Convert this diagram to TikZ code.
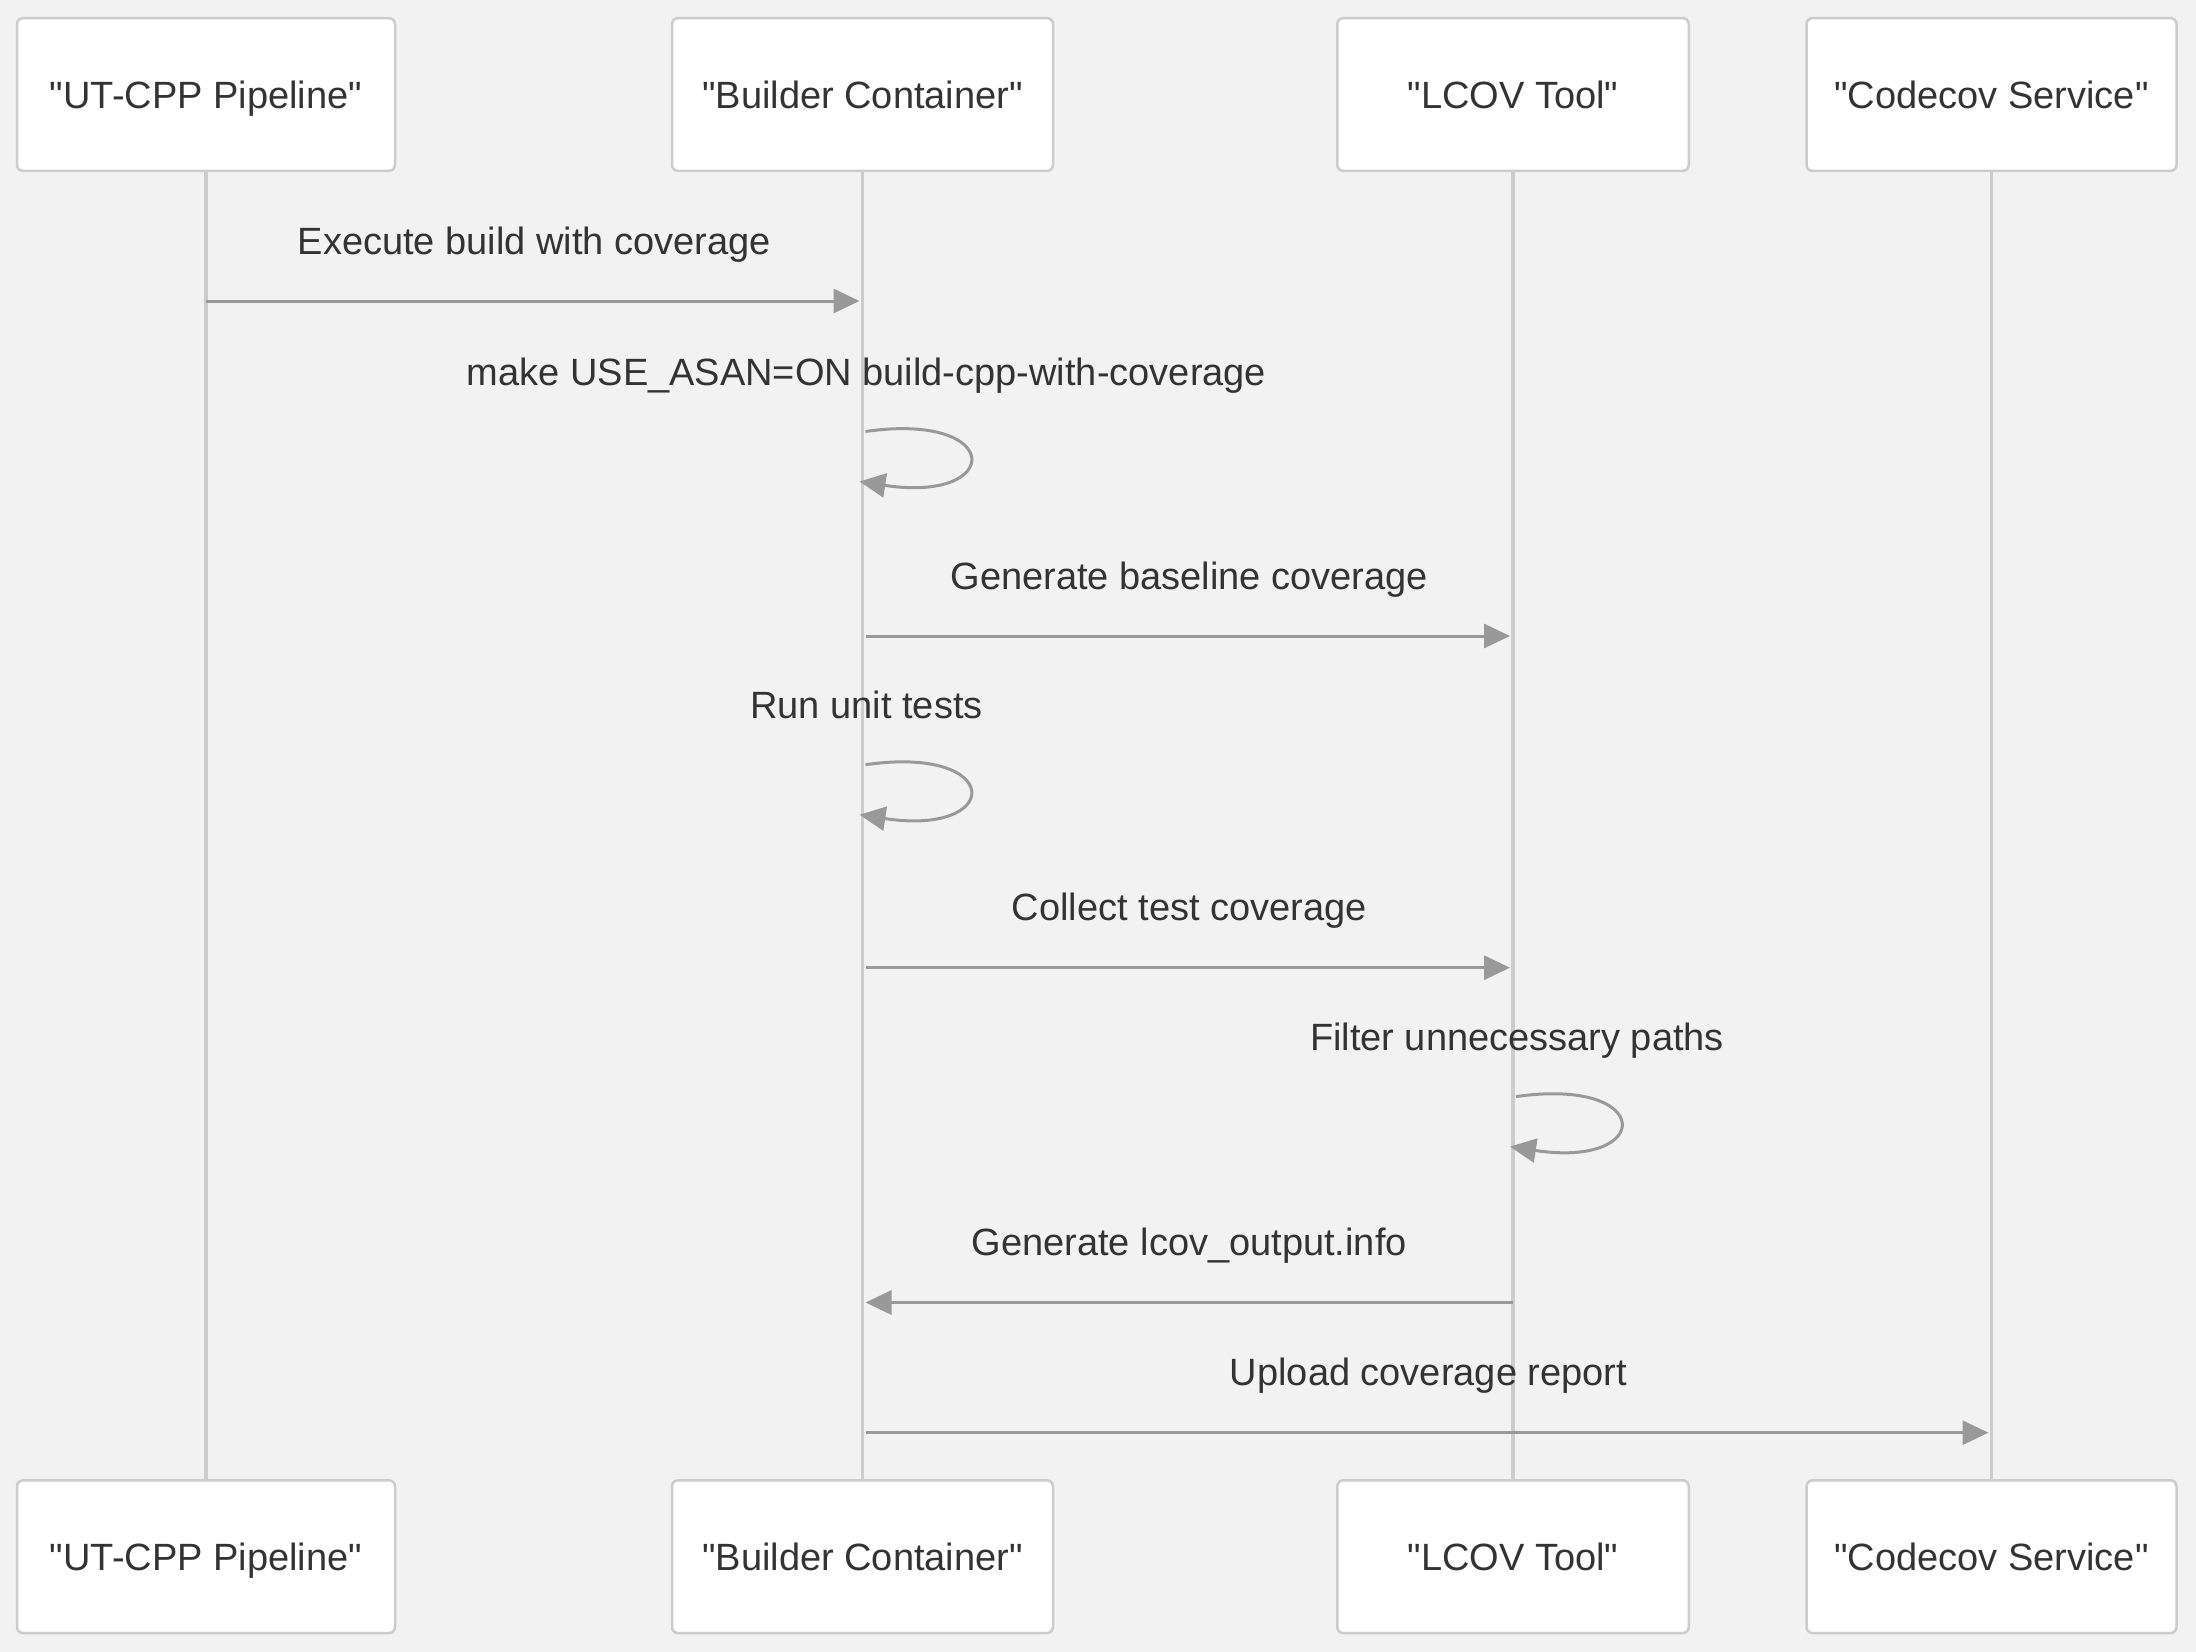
\documentclass[tikz,border=0pt]{standalone}
\usepackage{fontspec}
\newfontfamily\diagfont{Liberation Sans}
\usetikzlibrary{arrows.meta}
\definecolor{bg}{HTML}{F2F2F2}
\definecolor{boxborder}{HTML}{CCCCCC}
\definecolor{life}{HTML}{CCCCCC}
\definecolor{arrowc}{HTML}{999999}
\definecolor{txt}{HTML}{333333}
\begin{document}
\begin{tikzpicture}[x=1pt,y=-1pt,
  actor/.style={draw=boxborder, line width=2.5pt, fill=white, rounded corners=6pt,
    minimum height=152.7pt, inner sep=0pt, text height=27.2pt, text depth=0pt,
    font=\diagfont\fontsize{38}{46}\selectfont, text=txt},
  lifeline/.style={draw=life, line width=3.5pt},
  msg/.style={draw=arrowc, line width=3pt, -{Triangle[length=26pt,width=24pt]}},
  lbl/.style={anchor=base, inner sep=0pt, font=\diagfont\fontsize{38}{46}\selectfont, text=txt},
]
\fill[bg] (0,0) rectangle (2196,1652);
\useasboundingbox (0,0) rectangle (2196,1652);

% participants (top)
\node[actor, minimum width=378pt] (ut) at (206,94.5) {"UT-CPP Pipeline"};
\node[actor, minimum width=381pt] (bc) at (862.5,94.5) {"Builder Container"};
\node[actor, minimum width=351.5pt] (lc) at (1513,94.5) {"LCOV Tool"};
\node[actor, minimum width=370pt] (cs) at (1991.5,94.5) {"Codecov Service"};
% participants (bottom)
\node[actor, minimum width=378pt] (utb) at (206,1556.7) {"UT-CPP Pipeline"};
\node[actor, minimum width=381pt] (bcb) at (862.5,1556.7) {"Builder Container"};
\node[actor, minimum width=351.5pt] (lcb) at (1513,1556.7) {"LCOV Tool"};
\node[actor, minimum width=370pt] (csb) at (1991.5,1556.7) {"Codecov Service"};

% lifelines
\draw[lifeline] (ut.south) -- (utb.north);
\draw[lifeline] (bc.south) -- (bcb.north);
\draw[lifeline] (lc.south) -- (lcb.north);
\draw[lifeline] (cs.south) -- (csb.north);

% message rows
\coordinate (y1) at (0,301);
\coordinate (y2) at (0,431.5);
\coordinate (y3) at (0,636);
\coordinate (y4) at (0,764.7);
\coordinate (y5) at (0,967.7);
\coordinate (y6) at (0,1096.6);
\coordinate (y7) at (0,1302.5);
\coordinate (y8) at (0,1432.7);

% 1
\draw[msg, shorten >=3pt] (ut.south |- y1) -- node[lbl, yshift=47pt] (l1) {Execute build with coverage} (bc.south |- y1);
% 2 self loop
\node[lbl] (l2) at ([xshift=4pt, yshift=46pt]bc.south |- y2) {make USE\_ASAN=ON build-cpp-with-coverage};
\draw[msg] ([xshift=3pt]bc.south |- y2) .. controls +(139,-20) and +(144,22) .. ([xshift=-3pt, yshift=-50pt]bc.south |- y2);
% 3
\draw[msg, shorten >=3pt] ([xshift=3pt]bc.south |- y3) -- node[lbl, yshift=47pt] (l3) {Generate baseline coverage} (lc.south |- y3);
% 4 self loop
\node[lbl] (l4) at ([xshift=4pt, yshift=46pt]bc.south |- y4) {Run unit tests};
\draw[msg] ([xshift=3pt]bc.south |- y4) .. controls +(139,-20) and +(144,22) .. ([xshift=-3pt, yshift=-50pt]bc.south |- y4);
% 5
\draw[msg, shorten >=3pt] ([xshift=3pt]bc.south |- y5) -- node[lbl, yshift=47pt] (l5) {Collect test coverage} (lc.south |- y5);
% 6 self loop
\node[lbl] (l6) at ([xshift=4pt, yshift=46pt]lc.south |- y6) {Filter unnecessary paths};
\draw[msg] ([xshift=3pt]lc.south |- y6) .. controls +(139,-20) and +(144,22) .. ([xshift=-3pt, yshift=-50pt]lc.south |- y6);
% 7
\draw[msg] (lc.south |- y7) -- node[lbl, yshift=47pt] (l7) {Generate lcov\_output.info} ([xshift=3pt]bc.south |- y7);
% 8
\draw[msg, shorten >=3pt] ([xshift=3pt]bc.south |- y8) -- node[lbl, yshift=47pt] (l8) {Upload coverage report} (cs.south |- y8);
\end{tikzpicture}
\end{document}
